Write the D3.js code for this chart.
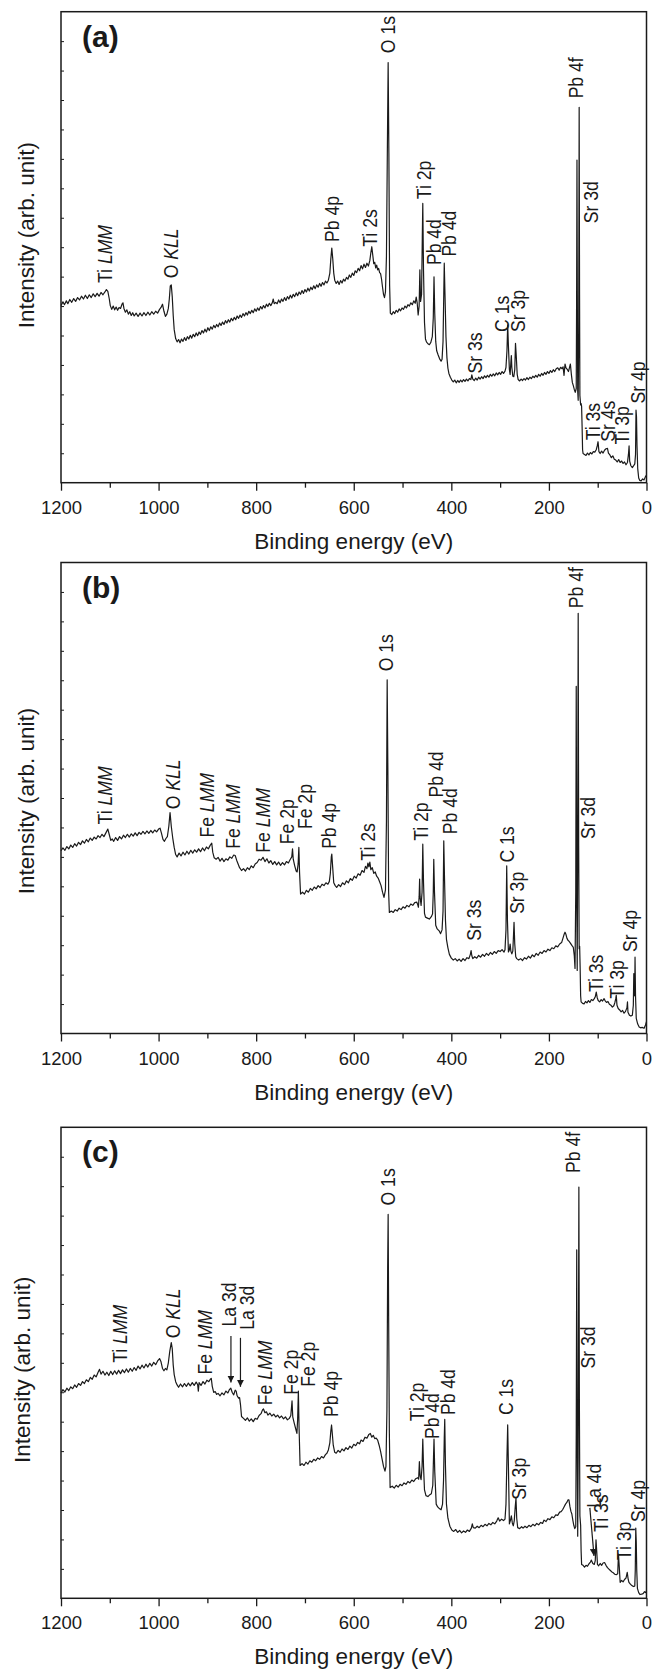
<!DOCTYPE html>
<html>
<head>
<meta charset="utf-8">
<script src="https://cdn.jsdelivr.net/npm/d3@7"></script>
<style>
body { margin: 0; background: #fff; }
text { font-family: "Liberation Sans", Arial, sans-serif; fill: #1a1a1a; }
</style>
</head>
<body>
<svg width="654" height="1671"></svg>
<script>
// x axis ticks (binding energy, eV)
const majorTicks = [1200, 1000, 800, 600, 400, 200, 0];
const minorTicks = [1100, 900, 700, 500, 300, 100];

// spectra: [binding energy, intensity (0-100 of panel height)]
const specA = [
[1200,37.6],[1196,38.4],[1193,37.8],[1189,38.6],[1186,38.0],[1182,38.9],[1178,38.3],[1174,39.1],[1170,38.5],[1166,39.3],[1162,38.8],[1158,39.6],[1154,39.0],[1150,39.8],[1146,39.1],[1142,39.9],[1138,39.3],[1134,40.1],[1130,39.5],[1126,40.2],[1122,39.6],[1118,40.4],[1114,39.9],[1110,40.5],[1107,41.0],[1104,40.6],[1101,39.0],[1099,37.6],[1096,36.8],[1093,37.5],[1090,36.7],[1087,37.3],[1084,36.6],[1081,37.2],[1078,37.0],[1075,37.9],[1073,38.2],[1071,37.0],[1068,36.2],[1065,36.7],[1062,35.8],[1059,36.3],[1056,35.5],[1053,36.1],[1050,35.4],[1046,36.0],[1042,35.3],[1038,36.0],[1034,35.4],[1030,36.1],[1026,35.5],[1022,36.2],[1018,35.6],[1014,36.3],[1010,35.8],[1006,36.4],[1002,36.0],[998,36.8],[995,37.2],[992,37.9],[989,36.4],[986,35.3],[983,35.8],[980,37.0],[978,39.0],[976,41.8],[974,42.0],[972,39.5],[970,35.5],[968,32.5],[965,30.6],[962,29.9],[959,30.4],[956,29.7],[953,30.5],[950,30.0],[947,30.8],[944,30.2],[941,31.0],[938,30.5],[935,31.3],[932,30.7],[929,31.5],[926,31.0],[923,31.8],[920,31.2],[917,32.0],[914,31.5],[911,32.3],[908,31.8],[905,32.6],[902,32.0],[899,32.9],[896,32.3],[893,33.1],[890,32.6],[887,33.4],[884,32.9],[881,33.6],[878,33.1],[875,33.9],[872,33.4],[869,34.1],[866,33.6],[863,34.4],[860,33.9],[857,34.6],[854,34.1],[851,34.9],[848,34.4],[845,35.1],[842,34.6],[839,35.4],[836,34.9],[833,35.6],[830,35.1],[827,35.9],[824,35.4],[821,36.1],[818,35.6],[815,36.4],[812,35.9],[809,36.6],[806,36.1],[803,36.9],[800,36.4],[797,37.1],[794,36.6],[791,37.4],[788,36.9],[785,37.6],[782,37.1],[779,37.9],[776,37.4],[773,38.1],[770,37.6],[767,38.2],[765,39.0],[763,38.0],[760,38.3],[757,38.0],[754,38.8],[751,38.2],[748,39.0],[745,38.5],[742,39.3],[739,38.7],[736,39.5],[733,39.0],[730,39.8],[727,39.2],[724,40.0],[721,39.5],[718,40.3],[715,39.7],[712,40.5],[709,40.0],[706,40.8],[703,40.2],[700,41.0],[697,40.5],[694,41.3],[691,40.7],[688,41.5],[685,41.0],[682,41.8],[679,41.2],[676,42.0],[673,41.5],[670,42.3],[667,41.7],[664,42.5],[661,42.0],[658,42.8],[655,42.4],[652,43.0],[649,44.5],[647,47.5],[645,49.8],[643,47.5],[641,44.5],[639,43.0],[636,42.3],[633,42.8],[630,42.1],[627,42.9],[624,42.4],[621,43.2],[618,42.8],[615,43.6],[612,43.2],[609,44.1],[606,43.6],[603,44.5],[600,44.0],[597,45.0],[594,44.6],[591,45.5],[588,45.0],[585,46.1],[582,45.4],[579,46.4],[576,45.7],[573,46.6],[570,46.0],[567,47.2],[565,48.8],[563,50.1],[561,48.3],[559,46.5],[557,46.8],[555,45.6],[553,46.2],[551,45.2],[549,45.5],[547,44.6],[545,44.4],[543,43.2],[541,41.5],[539,40.0],[537,39.3],[535,40.5],[533,48.0],[531,72.0],[529.5,89.2],[528,70.0],[526.5,42.0],[525,36.0],[522,35.7],[519,36.3],[516,35.9],[513,36.6],[510,36.2],[507,36.9],[504,36.5],[501,37.1],[498,36.8],[495,37.5],[492,37.1],[489,37.8],[486,37.5],[483,38.2],[480,37.8],[477,38.6],[474,38.1],[472,39.4],[470,38.2],[468,35.6],[466,37.5],[464.5,45.2],[463,38.5],[461,40.0],[459.5,52.0],[458.5,59.3],[457,45.0],[455,34.0],[453,30.5],[451,29.9],[448,29.5],[445,29.3],[442,29.8],[439,31.0],[437,35.0],[435.5,43.7],[434,36.0],[432,30.0],[430,28.0],[427,27.1],[424,26.3],[421,25.8],[419,26.2],[417,30.0],[415.5,40.0],[414.5,46.6],[413,40.0],[411,31.0],[409,26.5],[407,24.3],[405,23.2],[402,22.4],[399,21.8],[396,21.4],[393,21.8],[390,21.2],[387,21.7],[384,21.3],[381,21.8],[378,21.4],[375,21.9],[372,21.5],[369,22.0],[366,21.6],[363,22.1],[360,21.9],[358,22.9],[356,22.0],[353,21.7],[350,22.2],[347,21.8],[344,22.4],[341,22.0],[338,22.5],[335,22.1],[332,22.7],[329,22.3],[326,22.8],[323,22.4],[320,23.0],[317,22.6],[314,23.1],[311,22.7],[308,23.3],[305,22.9],[302,23.4],[299,23.0],[296,23.6],[293,23.2],[290,23.7],[288,24.5],[286,28.0],[284.5,33.5],[283,29.0],[281,24.0],[279.5,23.0],[278,25.5],[277,27.0],[276,24.5],[274,22.6],[272,22.5],[270,24.0],[268.5,29.6],[267,27.0],[265,23.0],[263,21.9],[260,21.6],[257,22.0],[254,21.7],[251,22.1],[248,21.8],[245,22.3],[242,21.9],[239,22.4],[236,22.1],[233,22.6],[230,22.3],[227,22.8],[224,22.4],[221,23.0],[218,22.6],[215,23.2],[212,22.8],[209,23.4],[206,23.0],[203,23.6],[200,23.2],[197,23.8],[194,23.4],[191,24.0],[188,23.6],[185,24.2],[182,24.4],[179,23.9],[176,24.5],[173,24.2],[171,24.6],[169,22.8],[167,25.2],[165,24.4],[162,24.0],[160,23.6],[158,24.4],[156,25.2],[154,23.0],[152,21.3],[150,20.6],[148,19.8],[146,19.2],[144,20.0],[143.2,40.0],[142.5,68.5],[141.8,40.0],[141,19.5],[140,17.5],[139,30.0],[138,79.7],[137.2,40.0],[136.5,18.5],[135,16.5],[134,16.8],[133,16.2],[132,12.0],[131,7.0],[130,6.2],[127,6.0],[124,5.8],[121,6.3],[118,5.9],[115,6.4],[112,6.1],[109,6.6],[106,6.5],[103,7.0],[101,7.8],[99.3,8.7],[97.5,6.6],[95,6.2],[92,6.7],[89,6.3],[86,6.9],[83,7.2],[80,7.3],[78,6.3],[75,5.9],[72,5.3],[69,5.7],[66,5.0],[63,4.8],[60,4.4],[57,4.9],[54,4.3],[51,4.6],[48,4.1],[45,4.4],[42,3.8],[39,4.3],[37,6.0],[35.7,7.8],[34.5,4.6],[32,3.6],[29,3.2],[27,3.5],[24,4.0],[22.5,6.0],[21.5,15.4],[20.5,14.0],[19.5,8.0],[18,3.0],[16,1.0],[14,0.5],[11,0.4],[8,0.8],[5,0.6],[2,1.3],[0,1.6]
];

const specB = [
[1200,38.8],[1196,39.4],[1192,38.9],[1188,39.7],[1184,39.2],[1180,40.0],[1176,39.5],[1172,40.3],[1168,39.8],[1164,40.6],[1160,40.1],[1156,40.9],[1152,40.4],[1148,41.2],[1144,40.7],[1140,41.5],[1136,41.0],[1132,41.7],[1128,41.3],[1124,42.0],[1120,41.6],[1116,42.3],[1112,41.8],[1108,42.6],[1104,43.4],[1101,42.2],[1098,41.0],[1095,41.3],[1092,40.8],[1088,41.6],[1084,41.0],[1080,41.8],[1076,41.3],[1072,42.1],[1068,41.6],[1064,42.3],[1060,41.7],[1056,42.4],[1052,41.9],[1048,42.6],[1044,42.0],[1040,42.7],[1036,42.3],[1032,42.9],[1028,42.4],[1024,43.0],[1020,42.5],[1016,43.1],[1012,42.6],[1008,43.2],[1004,42.8],[1000,43.4],[997,43.6],[994,42.5],[991,41.2],[988,40.8],[985,41.4],[982,41.8],[979,44.0],[976.5,46.9],[974,44.0],[971,41.5],[968,39.5],[965,38.0],[962,37.5],[958,38.3],[954,37.7],[950,38.5],[946,37.9],[942,38.7],[938,38.1],[934,38.9],[930,38.3],[926,39.0],[922,38.5],[918,39.2],[914,38.6],[910,39.4],[906,38.8],[902,39.6],[898,39.2],[894,40.0],[891,40.4],[889,38.5],[886,37.3],[882,37.0],[878,37.4],[874,36.6],[870,37.2],[866,36.5],[862,37.1],[858,36.8],[854,37.5],[850,37.2],[846,37.9],[843,37.8],[840,36.8],[837,36.0],[834,35.2],[830,34.6],[826,35.0],[822,34.5],[818,35.2],[814,34.8],[810,35.6],[806,35.2],[802,36.0],[798,36.3],[794,37.0],[790,36.8],[786,37.4],[782,36.5],[778,37.1],[774,36.2],[770,36.7],[766,35.9],[762,36.5],[758,35.8],[754,36.4],[750,35.7],[746,36.3],[742,35.8],[738,36.5],[734,36.2],[730,37.0],[727,37.5],[725.5,39.2],[724,37.0],[721,35.6],[718,34.5],[716,34.3],[714,36.0],[712.5,39.5],[711,34.0],[709,29.6],[705,30.0],[701,29.6],[697,30.4],[693,30.0],[689,30.8],[685,30.4],[681,31.1],[677,30.7],[673,31.4],[669,31.0],[665,31.7],[661,31.4],[657,32.0],[653,31.7],[650,32.3],[648,34.0],[646,37.5],[645,38.1],[643,35.0],[641,32.0],[638,31.4],[635,31.0],[631,31.6],[627,31.2],[623,32.0],[619,31.6],[615,32.4],[611,32.0],[607,32.9],[603,32.5],[599,33.4],[595,33.0],[591,33.9],[587,33.6],[583,34.6],[579,34.2],[576,35.5],[573,35.0],[571,36.2],[569,35.4],[567,36.4],[565,34.8],[562,35.2],[559,34.0],[556,34.3],[553,33.4],[550,33.0],[547,32.2],[544,31.4],[541,30.0],[538,28.9],[535,30.5],[533,45.0],[531.5,75.1],[530,55.0],[528.5,30.0],[527,25.7],[523,26.0],[519,25.7],[515,26.3],[511,26.0],[507,26.6],[503,26.3],[499,26.9],[495,26.6],[491,27.2],[487,26.9],[483,27.5],[479,27.2],[475,27.8],[471,27.9],[469,27.4],[467.5,26.8],[466,29.0],[465,32.8],[464,29.0],[462,27.2],[460,30.0],[458.5,40.2],[457,32.0],[455,25.5],[453,24.7],[449,24.5],[445,24.3],[441,24.8],[438.5,25.4],[437,30.0],[436,37.0],[434.5,30.0],[432,23.0],[429,22.2],[425,21.8],[422,21.2],[419,22.0],[417,26.0],[415.5,40.9],[414,33.0],[412,24.0],[410,20.0],[407,18.2],[404,16.8],[400,16.0],[396,15.6],[392,15.9],[388,15.4],[384,15.8],[380,15.3],[376,15.9],[372,15.5],[368,16.1],[364,15.9],[361,16.8],[359.5,17.6],[358,16.5],[356,15.9],[352,16.3],[348,16.0],[344,16.6],[340,16.2],[336,16.8],[332,16.4],[328,17.0],[324,16.6],[320,17.2],[316,16.8],[312,17.4],[308,17.0],[304,17.6],[300,17.4],[296,17.8],[292,17.3],[290,17.8],[288,22.0],[286.5,35.6],[285,24.0],[283,17.3],[281,17.8],[279.5,19.0],[278,17.5],[276,16.9],[274,17.5],[272.5,21.0],[271.5,23.6],[270,19.0],[268,16.3],[266,15.9],[262,15.6],[258,15.9],[254,15.5],[250,16.1],[246,15.8],[242,16.4],[238,16.0],[234,16.7],[230,16.3],[226,17.0],[222,16.6],[218,17.3],[214,17.0],[210,17.6],[206,17.3],[202,17.9],[198,17.6],[194,18.2],[190,18.0],[186,18.6],[182,18.4],[178,19.0],[174,19.3],[171,20.3],[169,21.0],[167,21.5],[165,21.0],[163,20.2],[161,19.8],[159,19.6],[156,19.2],[153,18.7],[150,18.3],[148,16.5],[146.5,13.8],[145,30.0],[144,73.7],[143,30.0],[142,13.4],[141,40.0],[140,89.2],[139,40.0],[138,18.0],[137,18.5],[136,14.0],[135,8.0],[134,6.7],[131,6.4],[128,6.3],[125,6.8],[122,6.5],[119,7.0],[116,6.6],[113,7.2],[110,7.0],[107,7.4],[105,7.8],[103,8.8],[101,7.6],[99,7.0],[96,6.7],[93,7.2],[90,6.9],[87,7.4],[85,7.0],[82,6.6],[79,6.8],[76,6.2],[73,6.0],[70,5.6],[67,5.9],[65,6.5],[63,7.4],[62,8.1],[60.5,6.0],[58,5.3],[55,5.0],[52,4.6],[49,4.9],[46,4.3],[43,4.7],[40,5.5],[39,6.7],[38,4.5],[35,3.9],[32,3.7],[29,3.9],[27,6.0],[26,12.7],[25,8.0],[24,10.0],[23.5,16.2],[22.5,8.0],[21,3.2],[18,2.0],[15,1.4],[12,1.2],[9,1.3],[5,1.1],[2,1.8],[0,2.5]
];

const specC = [
[1200,43.6],[1196,44.3],[1192,43.8],[1188,44.6],[1184,44.1],[1180,44.9],[1176,44.5],[1172,45.3],[1168,44.8],[1164,45.6],[1160,45.2],[1156,46.0],[1152,45.6],[1148,46.4],[1144,46.0],[1140,46.9],[1136,46.5],[1132,47.4],[1128,47.0],[1124,48.0],[1121,48.6],[1118,47.6],[1114,48.2],[1110,47.4],[1106,48.0],[1102,47.3],[1098,48.2],[1094,47.5],[1090,48.3],[1086,47.6],[1082,48.4],[1078,47.7],[1074,48.5],[1070,47.9],[1066,48.7],[1062,48.0],[1058,48.8],[1054,48.2],[1050,49.0],[1046,48.4],[1042,49.3],[1038,48.7],[1034,49.5],[1030,48.9],[1026,49.7],[1022,49.1],[1018,49.9],[1014,49.3],[1010,50.1],[1006,49.6],[1002,50.4],[998,50.9],[995,50.2],[992,48.8],[989,48.3],[986,48.8],[983,48.5],[980,50.0],[977,52.5],[974,54.3],[972,53.0],[970,49.5],[968,47.5],[965,46.0],[962,45.3],[959,44.8],[955,45.5],[951,44.9],[947,45.6],[943,45.0],[939,45.7],[935,45.1],[931,45.8],[927,45.2],[923,45.9],[920,45.4],[918.5,44.0],[917,45.8],[913,45.2],[909,46.0],[905,45.5],[901,46.3],[897,46.0],[894,46.5],[892,46.7],[890,45.0],[887,43.7],[884,43.9],[881,43.3],[878,43.5],[874,43.0],[870,43.6],[866,43.2],[862,44.0],[858,43.6],[855,44.3],[852,44.6],[849,43.7],[846,43.2],[843,44.2],[841,44.0],[839,43.0],[836,42.5],[834,42.6],[832,41.0],[830,38.6],[826,38.2],[822,37.8],[818,38.3],[814,37.6],[810,38.1],[806,37.5],[802,38.2],[798,38.0],[794,38.8],[790,39.2],[787,40.0],[785,40.2],[782,39.4],[779,39.6],[776,38.9],[772,39.3],[768,38.7],[764,39.1],[760,38.5],[756,38.9],[752,38.3],[748,38.7],[744,38.1],[740,38.5],[736,37.9],[732,38.2],[729,38.8],[726.5,41.9],[725,38.5],[722,37.2],[719,36.0],[716.5,35.0],[715,38.0],[713.5,44.0],[712,36.0],[710,28.2],[706,28.6],[702,28.2],[698,28.9],[694,28.5],[690,29.2],[686,28.9],[682,29.5],[678,29.2],[674,29.8],[670,29.5],[666,30.1],[662,29.8],[658,30.5],[655,30.8],[652,31.5],[649,33.0],[647,35.5],[645.5,36.8],[644,35.0],[642,32.5],[639,31.0],[636,30.8],[632,31.4],[628,31.0],[624,31.7],[620,31.3],[616,32.0],[612,31.6],[608,32.3],[604,31.9],[600,32.7],[596,32.4],[592,33.1],[588,32.8],[585,33.6],[581,33.3],[577,34.2],[573,34.0],[569,34.8],[566,35.0],[563,34.2],[560,34.6],[557,33.9],[554,34.0],[551,33.6],[548,32.5],[545,31.2],[542,29.6],[539,28.0],[536,27.0],[534,28.0],[532,40.0],[530.5,70.0],[529.5,81.5],[528.5,60.0],[527,35.0],[525.5,23.5],[521,23.8],[517,23.4],[513,24.0],[509,23.6],[505,24.2],[501,23.9],[497,24.5],[493,24.2],[489,24.8],[485,24.5],[481,25.1],[477,24.8],[473,25.4],[469,25.6],[467,25.3],[465.5,29.0],[464,26.0],[462,25.2],[460,28.0],[458.5,33.8],[457,28.0],[455,23.0],[452,21.8],[448,21.6],[444,22.0],[441,22.2],[438,24.0],[436.5,30.0],[435.5,33.8],[434,27.0],[431,20.0],[428,19.4],[424,19.0],[421,18.8],[418,20.0],[416,25.0],[414.5,34.0],[413.5,38.0],[412,28.0],[410,20.0],[407,17.0],[403,15.3],[399,14.5],[395,14.2],[391,14.6],[387,14.0],[383,14.4],[379,13.9],[375,14.3],[371,14.0],[367,14.5],[363,14.2],[359,14.9],[357,15.8],[355,15.0],[351,14.9],[347,15.3],[343,15.0],[339,15.5],[335,15.2],[331,15.7],[327,15.4],[323,15.9],[319,15.6],[315,16.1],[311,15.8],[307,16.4],[304,17.1],[301,16.4],[297,16.8],[293,16.5],[290,16.8],[288,20.0],[286,30.0],[284.5,36.8],[283,28.0],[281,15.8],[279,16.5],[277,17.5],[275,16.0],[273,15.4],[271,16.5],[269,19.5],[267.5,21.3],[266,17.0],[264,15.0],[260,14.8],[256,15.2],[253,14.9],[249,15.3],[245,15.0],[241,15.5],[237,15.2],[233,15.7],[229,15.4],[225,15.9],[221,15.6],[217,16.1],[213,15.9],[210,16.6],[206,16.3],[202,16.9],[198,16.7],[194,17.3],[190,17.1],[186,17.7],[182,17.6],[178,18.3],[175,18.4],[172,18.8],[169,19.4],[166,20.0],[163,20.4],[161,20.9],[159,20.9],[157,19.5],[155,18.5],[153,17.9],[151,16.6],[149,15.5],[147,14.8],[145,15.2],[144,35.0],[143,74.0],[142,35.0],[141,13.2],[140,30.0],[138.6,87.3],[137.5,40.0],[136.5,17.5],[135,15.5],[134,10.0],[133,7.2],[130,7.0],[127,6.6],[124,7.0],[121,6.8],[118,7.3],[115,7.7],[113,8.1],[110,7.4],[107,7.2],[105,8.0],[103.5,12.4],[102,10.0],[100.5,7.2],[98,6.9],[95,7.4],[92,7.0],[89,7.5],[86,7.6],[83,7.0],[80,6.5],[77,6.2],[74,5.9],[71,5.6],[68,5.4],[65,5.1],[62,5.0],[59,5.2],[57.5,9.4],[56,7.0],[54,3.4],[51,3.8],[48,3.5],[45,4.0],[42,4.3],[39.5,5.5],[37.5,4.0],[36,3.4],[33,3.0],[30,2.7],[27,2.5],[24,2.6],[23,6.0],[22,14.9],[21,12.0],[20,6.0],[18.6,2.1],[16,1.2],[13.5,0.8],[10,0.9],[7,1.0],[4,1.4],[1,1.2],[0,1.6]
];

// peak labels: [text, binding energy, intensity at the label foot]
const labelsA = [["Ti LMM",1111,42.4],["O KLL",974,43.4],["Pb 4p",645,51.1],["Ti 2s",567.6,50.1],["O 1s",530.9,91.2],["Ti 2p",455.6,60.2],["Pb 4d",436.7,46.2],["Pb 4d",404.3,48.0],["Sr 3s",352.8,23.2],["C 1s",297.2,32.0],["Sr 3p",263,32.0],["Pb 4f",145.8,81.6],["Sr 3d",113.2,55.1],["Ti 3s",109.5,9.0],["Sr 4s",80,8.7],["Ti 3p",50,8.1],["Sr 4p",17.2,16.8]];
const labelsB = [["Ti LMM",1111,44.4],["O KLL",971.5,47.6],["Fe LMM",901.3,41.6],["Fe LMM",847.4,39.2],["Fe LMM",785.8,38.4],["Fe 2p",737.8,40.2],["Fe 2p",700.3,43.4],["Pb 4p",650.7,39.2],["Ti 2s",571,36.7],["O 1s",535.2,76.9],["Ti 2p",462.4,40.9],["Pb 4d",432.4,50.1],["Pb 4d",402.4,42.3],["Sr 3s",353.8,19.7],["C 1s",286.9,36.3],["Sr 3p",265.6,25.4],["Pb 4f",145.8,90.3],["Sr 3d",120.2,41.3],["Ti 3s",103,8.8],["Ti 3p",60.3,7.4],["Sr 4p",34.6,17.3]];
const labelsC = [["Ti LMM",1078.5,50.0],["O KLL",971.5,55.2],["Fe LMM",905.7,47.5],["La 3d",856,57.7],["La 3d",819.1,57.0],["Fe LMM",781.5,41.0],["Fe 2p",729.3,43.2],["Fe 2p",693.3,44.9],["Pb 4p",646.3,38.5],["O 1s",530.7,83.4],["Ti 2p",470.8,37.6],["Pb 4d",441,33.8],["Pb 4d",406.6,38.9],["C 1s",288.6,38.9],["Sr 3p",261.1,20.9],["Pb 4f",151.5,90.3],["Sr 3d",120,48.8],["La 4d",108.8,19.2],["Ti 3s",94.3,14.1],["Ti 3p",47.2,8.1],["Sr 4p",17.3,16.2]];

// arrows: [from BE, from intensity, to BE, to intensity]
const arrowsC = [[851.7,55.7,851.7,45.8],[832.2,55.3,832.2,44.9],[116.1,19.2,107.6,9.0]];

const panelNames = ["(a)", "(b)", "(c)"];
const panelTops = [11.7, 562.5, 1127.3];
const yTitleShift = [-12, 3, 7];
const yTitleX = [34, 34, 30];

const svg = d3.select("svg");
const W = {left: 61, right: 646.5, h: 471};
const ink = "#1a1a1a";

svg.append("defs").append("marker")
  .attr("id", "head")
  .attr("viewBox", "0 0 10 10")
  .attr("refX", 10).attr("refY", 5)
  .attr("markerWidth", 7).attr("markerHeight", 7)
  .attr("markerUnits", "userSpaceOnUse")
  .attr("orient", "auto")
  .append("path").attr("d", "M0,0 L10,5 L0,10 z").attr("fill", ink);

const panels = [
  {spec: specA, labels: labelsA, arrows: []},
  {spec: specB, labels: labelsB, arrows: []},
  {spec: specC, labels: labelsC, arrows: arrowsC}
];

panels.forEach((p, i) => {
  const top = panelTops[i];
  const bottom = top + W.h;
  const x = d3.scaleLinear().domain([1200, 0]).range([W.left, W.right]);
  const y = d3.scaleLinear().domain([0, 100]).range([bottom, top]);
  const g = svg.append("g");

  // major x ticks with labels
  const xa = g.append("g").attr("transform", `translate(0,${bottom})`)
    .call(d3.axisBottom(x).tickValues(majorTicks).tickSize(8).tickPadding(10).tickFormat(d3.format("d")));
  // minor x ticks
  const xm = g.append("g").attr("transform", `translate(0,${bottom})`)
    .call(d3.axisBottom(x).tickValues(minorTicks).tickSize(5).tickFormat(""));
  [xa, xm].forEach(a => {
    a.select(".domain").remove();
    a.selectAll("line").attr("stroke", ink).attr("stroke-width", 1.3);
  });
  xa.selectAll("text").attr("font-size", 18.5).attr("fill", ink)
    .attr("font-family", "Liberation Sans, Arial, sans-serif");

  // inward y ticks, no labels
  const ya = g.append("g").attr("transform", `translate(${W.left},0)`)
    .call(d3.axisRight(y).tickValues(d3.range(1, 16).map(k => k * 100 / 16)).tickSize(3).tickFormat(""));
  ya.select(".domain").remove();
  ya.selectAll("line").attr("stroke", ink).attr("stroke-width", 1);

  // spectrum
  g.append("path")
    .datum(p.spec)
    .attr("fill", "none")
    .attr("stroke", ink)
    .attr("stroke-width", 1.2)
    .attr("stroke-linejoin", "round")
    .attr("d", d3.line().x(d => x(d[0])).y(d => y(d[1])));

  // frame
  g.append("rect")
    .attr("x", W.left).attr("y", top)
    .attr("width", W.right - W.left).attr("height", W.h)
    .attr("fill", "none").attr("stroke", ink).attr("stroke-width", 1.5);

  // peak labels, rotated, slightly condensed like the original
  p.labels.forEach(l => {
    const t = g.append("text")
      .attr("transform", `translate(${x(l[1]) + 7.2},${y(l[2])}) rotate(-90) scale(0.88,1)`)
      .attr("font-size", 20);
    const parts = l[0].split(" ");
    t.append("tspan").text(parts[0] + " ");
    t.append("tspan").text(parts[1])
      .attr("font-style", /^(LMM|KLL)$/.test(parts[1]) ? "italic" : "normal");
  });

  // arrows
  p.arrows.forEach(a => {
    g.append("line")
      .attr("x1", x(a[0])).attr("y1", y(a[1]))
      .attr("x2", x(a[2])).attr("y2", y(a[3]))
      .attr("stroke", ink).attr("stroke-width", 1.2)
      .attr("marker-end", "url(#head)");
  });

  // panel tag
  g.append("text")
    .attr("x", W.left + 21).attr("y", top + 35)
    .attr("font-size", 30).attr("font-weight", "bold")
    .text(panelNames[i]);

  // axis titles
  g.append("text")
    .attr("x", (W.left + W.right) / 2).attr("y", bottom + 66)
    .attr("text-anchor", "middle").attr("font-size", 22.5)
    .text("Binding energy (eV)");
  g.append("text")
    .attr("transform", `translate(${yTitleX[i]},${top + W.h / 2 + yTitleShift[i]}) rotate(-90)`)
    .attr("text-anchor", "middle").attr("font-size", 22.5)
    .text("Intensity (arb. unit)");
});
</script>
</body>
</html>
